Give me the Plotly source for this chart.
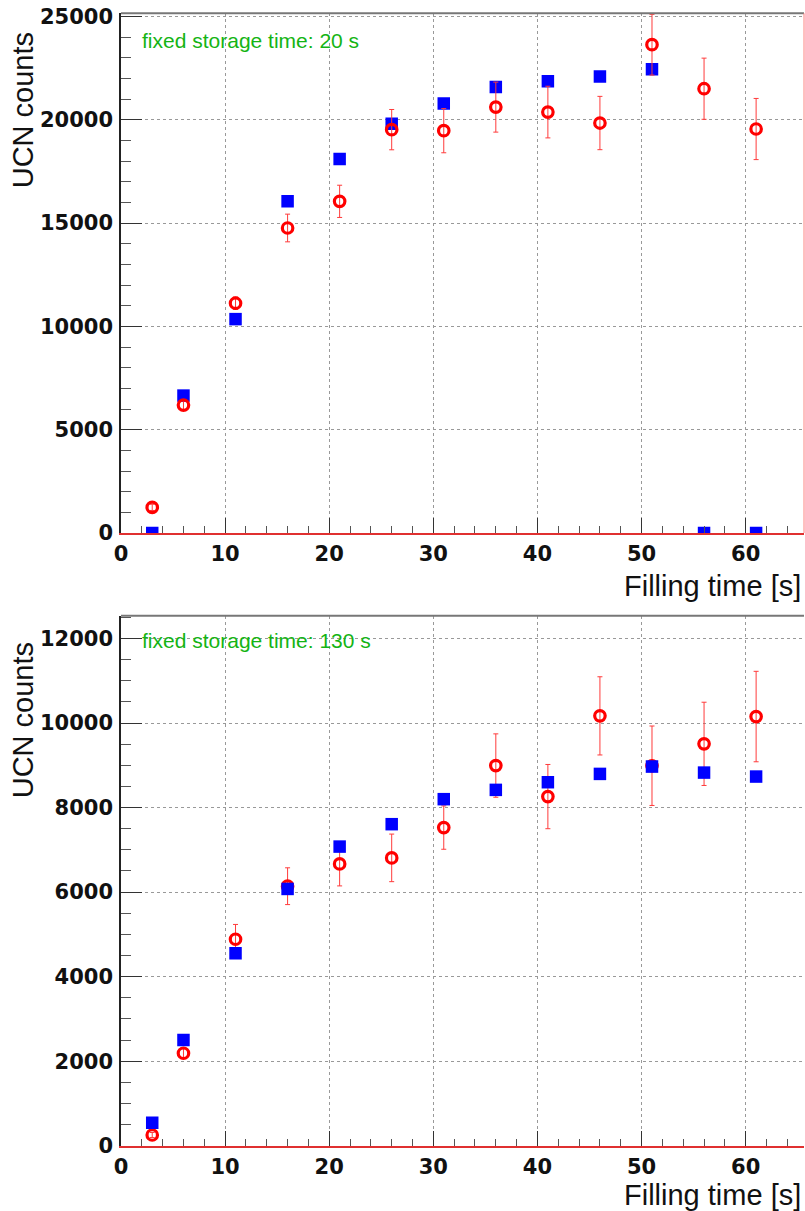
import plotly.graph_objects as go

# Filling times [s]
fill_time = [3, 6, 11, 16, 21, 26, 31, 36, 41, 46, 51, 56, 61]

# Storage time 20 s
top_blue = [0, 6650, 10350, 16050, 18100, 19810, 20790, 21580, 21860, 22090, 22440, 0, 0]
top_red = [1240, 6190, 11120, 14760, 16050, 19520, 19470, 20610, 20370, 19840, 23630, 21500, 19550]
top_red_err = [150, 250, 300, 670, 780, 975, 1070, 1210, 1250, 1290, 1470, 1480, 1480]

# Storage time 130 s
bot_blue = [544, 2502, 4553, 6075, 7077, 7607, 8199, 8419, 8600, 8797, 8970, 8828, 8734]
bot_red = [253, 2187, 4885, 6140, 6667, 6810, 7527, 8994, 8260, 10170, 8990, 9508, 10154]
bot_red_err = [60, 120, 350, 435, 520, 563, 513, 750, 760, 925, 940, 985, 1070]

top_label = "fixed storage time: 20 s"
bot_label = "fixed storage time: 130 s"
x_title = "Filling time [s]"
y_title = "UCN counts"

W, H = 805, 1211
BLUE = "#0000ff"
RED = "#ff0000"
ERR = "#ff3b3b"
GREEN = "#14b414"


def px(x):
    return x / W


def py(y):
    return 1 - y / H


def red_trace(xa, ya, y, err):
    return go.Scatter(
        x=fill_time, y=y, xaxis=xa, yaxis=ya, mode="markers",
        marker=dict(symbol="circle-open", size=10.5, color=RED, line=dict(width=3.2, color=RED)),
        error_y=dict(type="data", array=err, color=ERR, thickness=1, width=2.5),
        hoverinfo="x+y",
    )


def blue_trace(xa, ya, y):
    return go.Scatter(
        x=fill_time, y=y, xaxis=xa, yaxis=ya, mode="markers",
        marker=dict(symbol="square", size=12.5, color=BLUE, line=dict(width=0)),
        hoverinfo="x+y",
    )


fig = go.Figure()
# upper panel: open circles drawn over the squares
fig.add_trace(blue_trace("x", "y", top_blue))
fig.add_trace(red_trace("x", "y", top_red, top_red_err))
# lower panel: squares drawn over the circles
fig.add_trace(red_trace("x2", "y2", bot_red, bot_red_err))
fig.add_trace(blue_trace("x2", "y2", bot_blue))

tick_font = dict(family="DejaVu Sans", size=21, color="#111", weight="bold")


def xaxis(domain_anchor):
    return dict(
        anchor=domain_anchor, domain=[px(121), px(804)], range=[0, 65.6],
        dtick=10, tick0=0, tickformat="d",
        ticks="inside", ticklen=15, tickwidth=1, tickcolor="#333",
        minor=dict(dtick=2, ticks="inside", ticklen=7, tickcolor="#555", showgrid=False),
        showgrid=True, griddash="dot", gridcolor="#999", gridwidth=1,
        zeroline=False, showline=True, linecolor="#e03030", linewidth=1.5,
        tickfont=tick_font, ticklabelstandoff=1, automargin=False,
    )


def yaxis(domain_anchor, dom, rng, dtick, minor_dtick):
    return dict(
        anchor=domain_anchor, domain=dom, range=rng,
        dtick=dtick, tick0=0, tickformat="d",
        ticks="inside", ticklen=21, tickwidth=1, tickcolor="#333",
        minor=dict(dtick=minor_dtick, ticks="inside", ticklen=10, tickcolor="#555", showgrid=False),
        showgrid=True, griddash="dot", gridcolor="#999", gridwidth=1,
        zeroline=False, showline=True, linecolor="#222", linewidth=1.5,
        tickfont=tick_font, ticklabelstandoff=2, automargin=False,
    )


fig.update_layout(
    template="none",
    width=W, height=H, margin=dict(l=0, r=0, t=0, b=0, pad=0, autoexpand=False),
    paper_bgcolor="white", plot_bgcolor="white", showlegend=False,
    xaxis=xaxis("y"),
    yaxis=yaxis("x", [py(533), py(13.3)], [0, 25150], 5000, 1000),
    xaxis2=xaxis("y2"),
    yaxis2=yaxis("x2", [py(1145.7), py(615.7)], [0, 12540], 2000, 500),
)

# frame lines: grey top edge on both panels, thin red right edge on the upper one
shapes = []
for xr, yr in (("x domain", "y domain"), ("x2 domain", "y2 domain")):
    shapes.append(dict(type="line", xref=xr, yref=yr, x0=0, x1=1, y0=1, y1=1,
                       line=dict(color="#777", width=2)))
shapes.append(dict(type="line", xref="x domain", yref="y domain", x0=1, x1=1, y0=0, y1=1,
                   line=dict(color="#ff8080", width=1)))
fig.update_layout(shapes=shapes)

title_font = dict(family="Liberation Sans", size=29, color="#111")
label_font = dict(family="Liberation Sans", size=21, color=GREEN)
ann = []
for cy in (110, 720):
    ann.append(dict(text=y_title, xref="paper", yref="paper", x=px(23.3), y=py(cy),
                    xanchor="center", yanchor="middle", textangle=-90,
                    showarrow=False, font=title_font))
for cy in (586, 1195):
    ann.append(dict(text=x_title, xref="paper", yref="paper", x=px(803), y=py(cy),
                    xanchor="right", yanchor="middle",
                    showarrow=False, font=title_font))
for txt, cy in ((top_label, 40.5), (bot_label, 640.5)):
    ann.append(dict(text=txt, xref="paper", yref="paper", x=px(140), y=py(cy),
                    xanchor="left", yanchor="middle",
                    showarrow=False, font=label_font))
fig.update_layout(annotations=ann)

fig.write_html("out.html")
